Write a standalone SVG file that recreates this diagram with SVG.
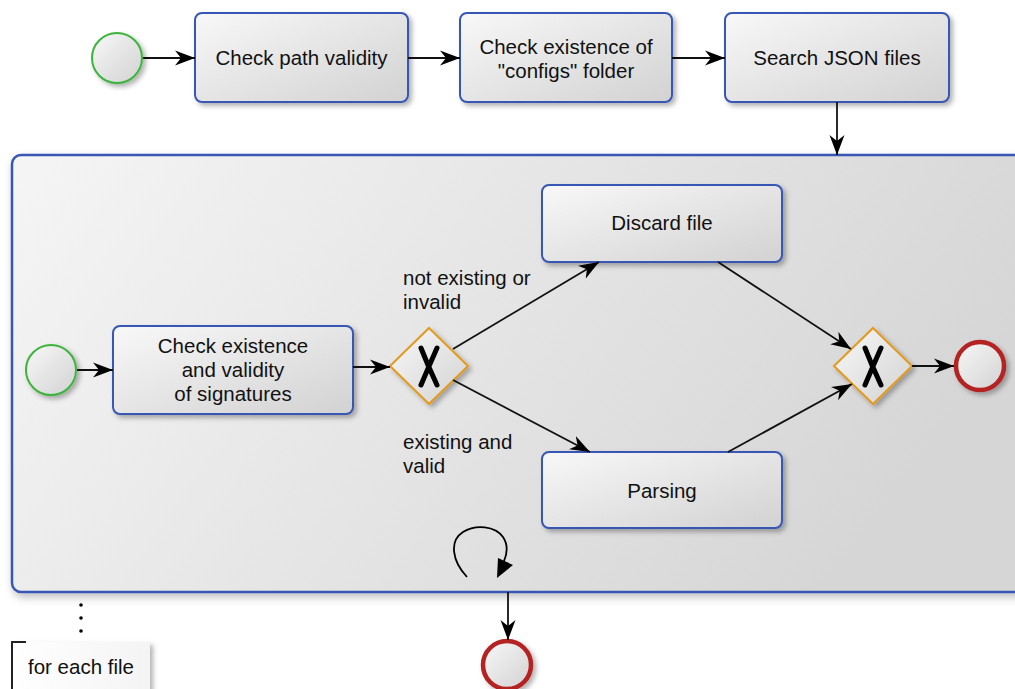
<svg xmlns="http://www.w3.org/2000/svg" width="1015" height="689" viewBox="0 0 1015 689">
  <defs>
    <linearGradient id="gTask" x1="0" y1="0" x2="1" y2="1">
      <stop offset="0" stop-color="#f8f8f8"/>
      <stop offset="1" stop-color="#d2d2d2"/>
    </linearGradient>
    <linearGradient id="gSub" x1="0" y1="0" x2="1" y2="0.3">
      <stop offset="0" stop-color="#f5f5f5"/>
      <stop offset="1" stop-color="#d6d6d6"/>
    </linearGradient>
    <linearGradient id="gNote" x1="0" y1="0" x2="1" y2="0">
      <stop offset="0" stop-color="#ffffff"/>
      <stop offset="1" stop-color="#f4f4f4"/>
    </linearGradient>
    <filter id="shadow" x="-10%" y="-10%" width="130%" height="140%">
      <feDropShadow dx="3" dy="3" stdDeviation="2.5" flood-color="#000" flood-opacity="0.3"/>
    </filter>
    <filter id="subShadow" x="-5%" y="-8%" width="110%" height="120%">
      <feDropShadow dx="2" dy="4" stdDeviation="4" flood-color="#000" flood-opacity="0.25"/>
    </filter>
    <marker id="arrow" markerUnits="userSpaceOnUse" viewBox="-20 -8 21 16" refX="0" refY="0" markerWidth="21" markerHeight="16" orient="auto">
      <path d="M0,0 L-20,-7.5 L-14,0 L-20,7.5 Z" fill="#000"/>
    </marker>
  </defs>
  <style>
    .task { fill: url(#gTask); stroke: #3857b3; stroke-width: 2; filter: url(#shadow); }
    .start { fill: url(#gTask); stroke: #3cb43c; stroke-width: 2; filter: url(#shadow); }
    .end { fill: url(#gTask); stroke: #b42020; stroke-width: 4.5; filter: url(#shadow); }
    .gw { fill: url(#gTask); stroke: #e39a1e; stroke-width: 2; filter: url(#shadow); }
    .gx { fill: none; stroke: #000; stroke-width: 5; stroke-linecap: round; }
    .lbl { font-family: "Liberation Sans", Arial, sans-serif; font-size: 20.5px; fill: #111; }
    .c { text-anchor: middle; }
    .flow { fill: none; stroke: #111; stroke-width: 1.8; marker-end: url(#arrow); }
  </style>

  <!-- sub-process container -->
  <g id="subprocess">
    <rect x="12" y="155" width="1030" height="437" rx="9" fill="url(#gSub)" stroke="#3857b3" stroke-width="2.5" filter="url(#subShadow)"/>
    <!-- loop marker -->
    <path d="M467,577 C452,561 449,541 463,532 C476,524 495,526 503,537 C509,546 507,554 504,561" fill="none" stroke="#000" stroke-width="1.8"/>
    <path d="M497,578 L498,558 L513,565 Z" fill="#000"/>
  </g>

  <!-- top row -->
  <g id="start">
    <circle cx="117" cy="58" r="25" class="start"/>
  </g>
  <g id="check-path">
    <rect x="195" y="13" width="213" height="89" rx="7" class="task"/>
    <text x="301.5" y="65" class="lbl c">Check path validity</text>
  </g>
  <g id="check-configs">
    <rect x="460" y="13" width="212" height="89" rx="7" class="task"/>
    <text x="566" y="54" class="lbl c">Check existence of</text>
    <text x="566" y="78" class="lbl c">"configs" folder</text>
  </g>
  <g id="search-json">
    <rect x="725" y="13" width="224" height="89" rx="7" class="task"/>
    <text x="837" y="65" class="lbl c">Search JSON files</text>
  </g>

  <!-- inside the sub-process -->
  <g id="sub-start">
    <circle cx="51" cy="370" r="25" class="start"/>
  </g>
  <g id="check-signatures">
    <rect x="113" y="326" width="240" height="88" rx="7" class="task"/>
    <text x="233" y="353" class="lbl c">Check existence</text>
    <text x="233" y="377" class="lbl c">and validity</text>
    <text x="233" y="401" class="lbl c">of signatures</text>
  </g>
  <g id="split">
    <path d="M429,328 L468,366 L429,404 L390,366 Z" class="gw"/>
    <path d="M421,348 Q428,366 437,385 M437,348 Q429,366 421,385" class="gx"/>
  </g>
  <g id="discard">
    <rect x="542" y="185" width="240" height="77" rx="7" class="task"/>
    <text x="662" y="230" class="lbl c">Discard file</text>
  </g>
  <g id="parsing">
    <rect x="542" y="452" width="240" height="76" rx="7" class="task"/>
    <text x="662" y="498" class="lbl c">Parsing</text>
  </g>
  <g id="merge">
    <path d="M873,328 L912,366 L873,404 L834,366 Z" class="gw"/>
    <path d="M865,348 Q872,366 881,385 M881,348 Q873,366 865,385" class="gx"/>
  </g>
  <g id="sub-end">
    <circle cx="980" cy="366" r="24" class="end"/>
  </g>

  <!-- after the loop -->
  <g id="end">
    <circle cx="507" cy="665" r="24" class="end"/>
  </g>

  <!-- annotation -->
  <g id="note">
    <circle cx="81" cy="605" r="1.8" fill="#000"/>
    <circle cx="81" cy="618" r="1.8" fill="#000"/>
    <circle cx="81" cy="631" r="1.8" fill="#000"/>
    <rect x="12" y="642" width="138" height="60" fill="url(#gNote)" filter="url(#shadow)"/>
    <path d="M26,642 L12,642 L12,689" fill="none" stroke="#222" stroke-width="2"/>
    <text x="28" y="674" class="lbl">for each file</text>
  </g>

  <!-- connectors -->
  <g id="connectors">
    <path d="M143,58 L195,58" class="flow"/>
    <path d="M408,58 L460,58" class="flow"/>
    <path d="M672,58 L725,58" class="flow"/>
    <path d="M837,102 L837,155" class="flow"/>
    <path d="M77,370 L113,370" class="flow"/>
    <path d="M353,367 L390,367" class="flow"/>
    <path d="M453,349 L599,262" class="flow"/>
    <path d="M453,380 L590,452" class="flow"/>
    <path d="M718,262 L851,349" class="flow"/>
    <path d="M728,452 L852,384" class="flow"/>
    <path d="M912,366 L954,366" class="flow"/>
    <path d="M508,592 L508,640" class="flow"/>
    <!-- gateway branch labels -->
    <text x="403" y="285" class="lbl">not existing or</text>
    <text x="403" y="309" class="lbl">invalid</text>
    <text x="403" y="449" class="lbl">existing and</text>
    <text x="403" y="473" class="lbl">valid</text>
  </g>
</svg>
